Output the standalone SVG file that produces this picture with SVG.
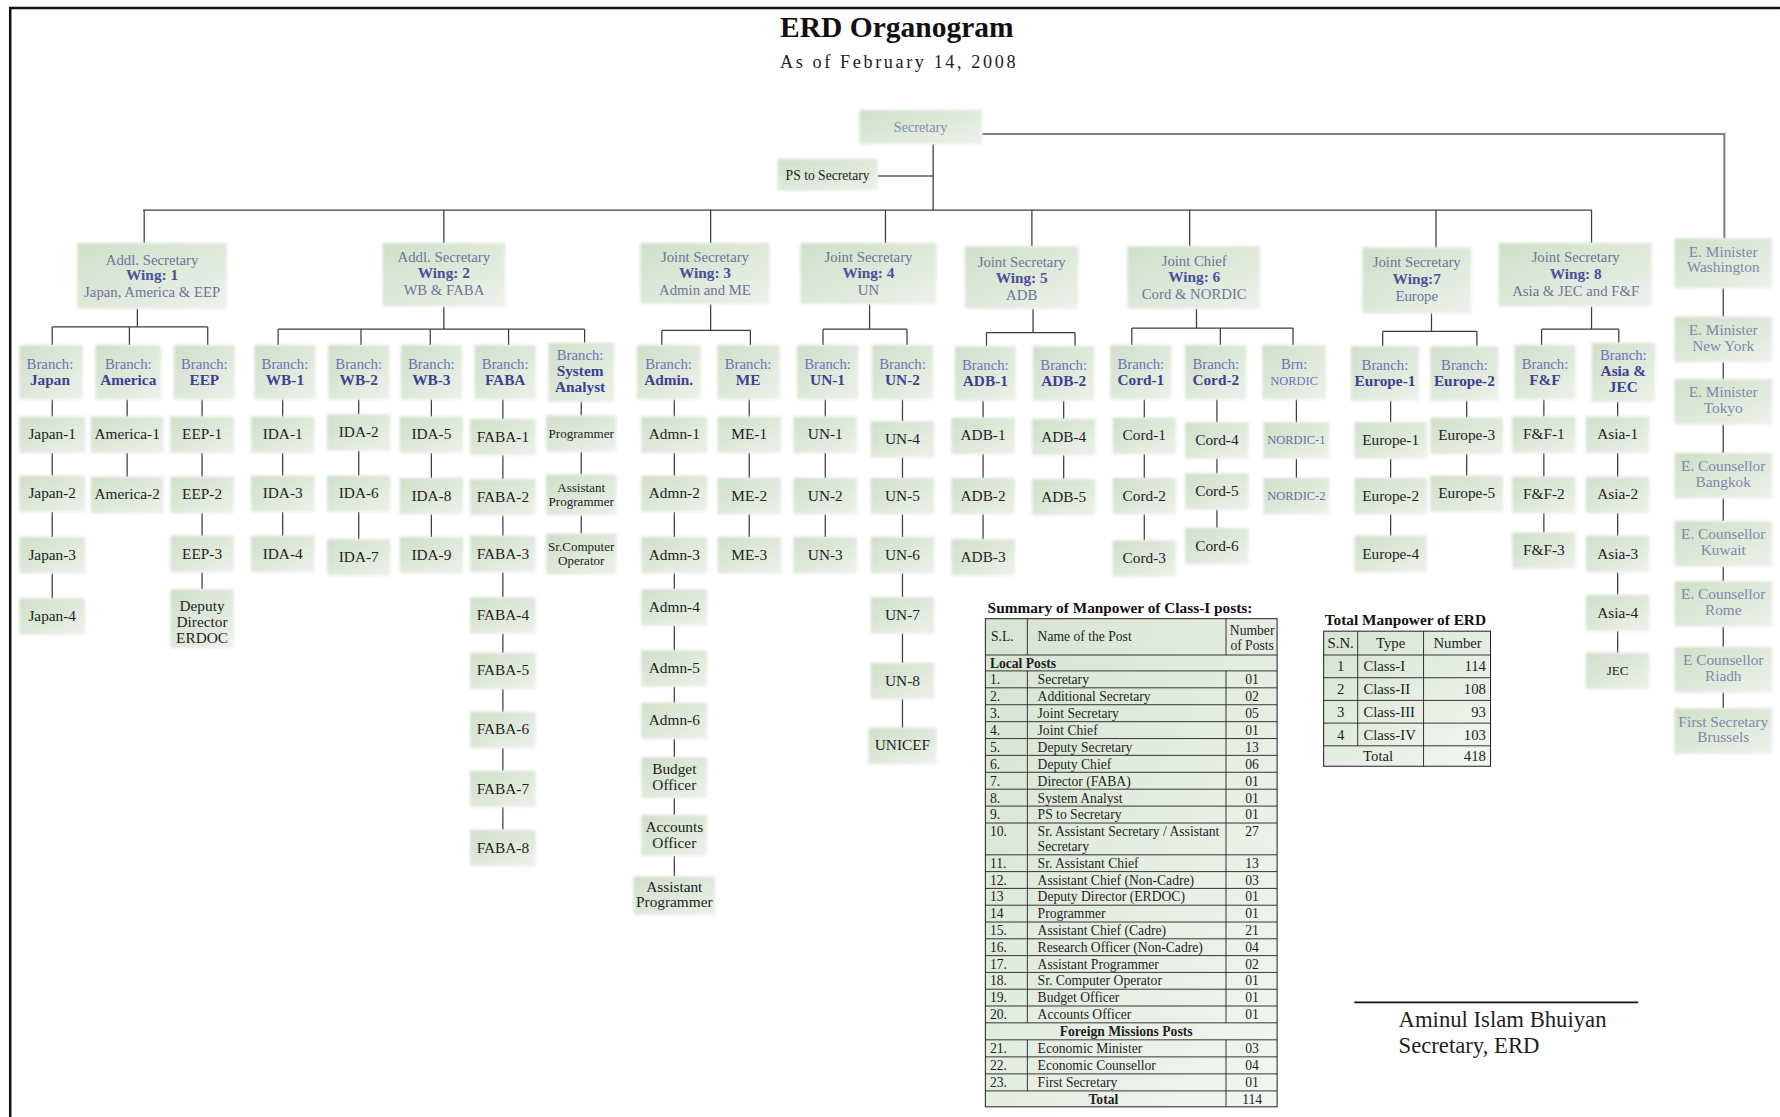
<svg xmlns="http://www.w3.org/2000/svg" width="1780" height="1117" viewBox="0 0 1780 1117">
<defs>
<linearGradient id="bg" x1="0" y1="0" x2="1" y2="1"><stop offset="0" stop-color="#cfdfc8"/><stop offset="1" stop-color="#edf1eb"/></linearGradient>
<linearGradient id="tg" x1="0" y1="0" x2="1" y2="1"><stop offset="0" stop-color="#d6e4d1"/><stop offset="1" stop-color="#f3f6f2"/></linearGradient>
<filter id="soft" x="-20%" y="-20%" width="140%" height="140%"><feGaussianBlur stdDeviation="1.3"/></filter>
</defs>
<style>
.bx{fill:url(#bg);filter:url(#soft)}
text{font-family:"Liberation Serif","Times New Roman",serif}
.t{font-size:13.5px;fill:#222;text-anchor:middle}
.s{font-size:11.5px}
.br{font-size:13px;fill:#6b73b8;text-anchor:middle}
.bn{font-size:13.5px;font-weight:bold;fill:#3c4191;text-anchor:middle}
.w{font-size:13px;fill:#6d7497;text-anchor:middle}
.wb{font-size:13.5px;font-weight:bold;fill:#4a5199;text-anchor:middle}
.m{font-size:13.5px;fill:#8088a8;text-anchor:middle}
.nd{font-size:11px;fill:#6a7098;text-anchor:middle}
.ln{stroke:#3c3c3c;stroke-width:1.1;fill:none}
.lg{stroke:#808080;stroke-width:1.8;fill:none}
.tb{fill:url(#tg);stroke:#222;stroke-width:0.9}
.tl{stroke:#222;stroke-width:0.8}
.tt{font-size:12px;fill:#1e1e1e}
.tn{font-size:12px;fill:#1e1e1e;text-anchor:middle}
.th{font-size:13.5px;font-weight:bold;fill:#111}
.tm{font-size:13px;fill:#1e1e1e}
</style>
<rect width="1780" height="1117" fill="#ffffff"/>
<g transform="scale(1.13520)">
<!-- frame -->
<path d="M9,984 V7 H1568" stroke="#111" stroke-width="2.2" fill="none"/>
<!-- title -->
<text x="790" y="33" text-anchor="middle" style="font-size:26px;font-weight:bold;fill:#111">ERD Organogram</text>
<text x="792" y="60" text-anchor="middle" style="font-size:16px;letter-spacing:2.3px;fill:#222">As of February 14, 2008</text>

<!-- connectors -->
<g id="connectors">
<polyline class="lg" points="865,118 1519,118 1519,210"/>
<line class="lg" x1="773" y1="155" x2="822" y2="155"/>
<line class="ln" x1="822" y1="127" x2="822" y2="185"/>
<line class="ln" x1="126" y1="185" x2="1402" y2="185"/>
<path class="ln" d="M127,185V214 M391,185V214 M626,185V214 M780,185V214 M909,185V217 M1048,185V217 M1265,185V218 M1402,185V214"/>
<path class="ln" d="M121,272V288 M46,288H183 M46,288V304 M114,288V304 M183,288V304"/>
<path class="ln" d="M46,352V367 M46,399V419 M46,451V473 M46,505V527 M112,352V367 M112,399V420 M178,352V367 M178,399V420 M178,452V472 M178,504V519"/>
<path class="ln" d="M391,270V290 M245,290H515 M245,290V304 M318,290V304 M379,290V304 M448,290V304 M515,290V302"/>
<path class="ln" d="M249,352V367 M249,399V419 M249,451V472 M316,352V365 M316,397V419 M316,451V475 M380,352V367 M380,399V421 M380,453V473 M443,352V369 M443,401V422 M443,454V472 M443,504V526 M443,558V575 M443,607V627 M443,659V679 M443,711V731 M512,354V366 M512,398V418 M512,454V470"/>
<path class="ln" d="M626,268V291 M583,291H661 M583,291V304 M661,291V304"/>
<path class="ln" d="M594,352V367 M594,399V419 M594,451V473 M594,505V519 M594,551V573 M594,605V619 M594,651V667 M594,703V718 M594,754V772 M660,352V367 M660,399V421 M660,453V473"/>
<path class="ln" d="M766,268V290 M725,290H799 M725,290V304 M799,290V304"/>
<path class="ln" d="M727,352V367 M727,399V421 M727,453V473 M795,352V371 M795,403V421 M795,453V473 M795,505V526 M795,558V584 M795,616V641"/>
<path class="ln" d="M910,272V293 M869,293H947 M869,293V305 M947,293V305"/>
<path class="ln" d="M866,353V368 M866,400V421 M866,453V475 M937,353V369 M937,401V422"/>
<path class="ln" d="M1054,272V289 M997,289H1139 M997,289V304 M1075,289V304 M1139,289V304"/>
<path class="ln" d="M1008,352V368 M1008,400V421 M1008,453V476 M1072,352V372 M1072,404V417 M1072,449V465 M1142,352V372 M1142,404V421"/>
<path class="ln" d="M1261,276V292 M1218,292H1301 M1218,292V305 M1301,292V305"/>
<path class="ln" d="M1225,353V372 M1225,404V421 M1225,453V472 M1292,353V368 M1292,400V419"/>
<path class="ln" d="M1402,270V290 M1358,290H1426 M1358,290V304 M1426,290V302"/>
<path class="ln" d="M1360,352V367 M1360,399V420 M1360,452V469 M1425,354V367 M1425,399V420 M1425,452V472 M1425,504V524 M1425,556V575"/>
<path class="ln" d="M1518,254V279 M1518,319V334 M1518,374V399 M1518,439V459 M1518,499V512 M1518,552V570 M1518,610V624"/>
</g>

<!-- top nodes -->
<g id="n-secretary"><rect class="bx" x="757" y="97" width="108" height="30"/><text x="811" y="116.5" text-anchor="middle" style="font-size:12.5px;fill:#7f8fb2">Secretary</text></g>
<g id="n-ps"><rect class="bx" x="685" y="140" width="88" height="28"/><text x="729" y="158.5" text-anchor="middle" style="font-size:12px;fill:#222">PS to Secretary</text></g>

<!-- wings -->
<g id="n-wing1"><rect class="bx" x="68" y="214" width="132" height="58"/><text class="w" x="134" y="233">Addl. Secretary</text><text class="wb" x="134" y="247">Wing: 1</text><text class="w" x="134" y="262">Japan, America &amp; EEP</text></g>
<g id="n-wing2"><rect class="bx" x="337" y="214" width="108" height="56"/><text class="w" x="391" y="231">Addl. Secretary</text><text class="wb" x="391" y="245">Wing: 2</text><text class="w" x="391" y="260">WB &amp; FABA</text></g>
<g id="n-wing3"><rect class="bx" x="564" y="214" width="114" height="54"/><text class="w" x="621" y="231">Joint Secretary</text><text class="wb" x="621" y="245">Wing: 3</text><text class="w" x="621" y="260">Admin and ME</text></g>
<g id="n-wing4"><rect class="bx" x="705" y="214" width="120" height="54"/><text class="w" x="765" y="231">Joint Secretary</text><text class="wb" x="765" y="245">Wing: 4</text><text class="w" x="765" y="260">UN</text></g>
<g id="n-wing5"><rect class="bx" x="850" y="217" width="100" height="55"/><text class="w" x="900" y="235">Joint Secretary</text><text class="wb" x="900" y="249">Wing: 5</text><text class="w" x="900" y="264">ADB</text></g>
<g id="n-wing6"><rect class="bx" x="993" y="217" width="117" height="55"/><text class="w" x="1052" y="234">Joint Chief</text><text class="wb" x="1052" y="248">Wing: 6</text><text class="w" x="1052" y="263">Cord &amp; NORDIC</text></g>
<g id="n-wing7"><rect class="bx" x="1200" y="218" width="96" height="58"/><text class="w" x="1248" y="235">Joint Secretary</text><text class="wb" x="1248" y="250">Wing:7</text><text class="w" x="1248" y="265">Europe</text></g>
<g id="n-wing8"><rect class="bx" x="1320" y="214" width="135" height="56"/><text class="w" x="1388" y="231">Joint Secretary</text><text class="wb" x="1388" y="246">Wing: 8</text><text class="w" x="1388" y="261">Asia &amp; JEC and F&amp;F</text></g>

<!-- wing 1 -->
<g id="n-b-japan"><rect class="bx" x="17" y="304" width="56" height="48"/><text class="br" x="44" y="325">Branch:</text><text class="bn" x="44" y="339">Japan</text></g>
<g id="n-b-america"><rect class="bx" x="84" y="304" width="58" height="48"/><text class="br" x="113" y="325">Branch:</text><text class="bn" x="113" y="339">America</text></g>
<g id="n-b-eep"><rect class="bx" x="153" y="304" width="54" height="48"/><text class="br" x="180" y="325">Branch:</text><text class="bn" x="180" y="339">EEP</text></g>
<g id="n-japan-1"><rect class="bx" x="17" y="367" width="58" height="32"/><text class="t" x="46" y="387">Japan-1</text></g>
<g id="n-japan-2"><rect class="bx" x="17" y="419" width="58" height="32"/><text class="t" x="46" y="439">Japan-2</text></g>
<g id="n-japan-3"><rect class="bx" x="17" y="473" width="58" height="32"/><text class="t" x="46" y="493">Japan-3</text></g>
<g id="n-japan-4"><rect class="bx" x="17" y="527" width="58" height="32"/><text class="t" x="46" y="547">Japan-4</text></g>
<g id="n-america-1"><rect class="bx" x="80" y="367" width="64" height="32"/><text class="t" x="112" y="387">America-1</text></g>
<g id="n-america-2"><rect class="bx" x="80" y="420" width="64" height="32"/><text class="t" x="112" y="440">America-2</text></g>
<g id="n-eep-1"><rect class="bx" x="150" y="367" width="56" height="32"/><text class="t" x="178" y="387">EEP-1</text></g>
<g id="n-eep-2"><rect class="bx" x="150" y="420" width="56" height="32"/><text class="t" x="178" y="440">EEP-2</text></g>
<g id="n-eep-3"><rect class="bx" x="150" y="472" width="56" height="32"/><text class="t" x="178" y="492">EEP-3</text></g>
<g id="n-dd-erdoc"><rect class="bx" x="150" y="519" width="56" height="52"/><text class="t" x="178" y="538">Deputy</text><text class="t" x="178" y="552">Director</text><text class="t" x="178" y="566">ERDOC</text></g>

<!-- wing 2 -->
<g id="n-b-wb1"><rect class="bx" x="224" y="304" width="54" height="48"/><text class="br" x="251" y="325">Branch:</text><text class="bn" x="251" y="339">WB-1</text></g>
<g id="n-b-wb2"><rect class="bx" x="289" y="304" width="54" height="48"/><text class="br" x="316" y="325">Branch:</text><text class="bn" x="316" y="339">WB-2</text></g>
<g id="n-b-wb3"><rect class="bx" x="353" y="304" width="54" height="48"/><text class="br" x="380" y="325">Branch:</text><text class="bn" x="380" y="339">WB-3</text></g>
<g id="n-b-faba"><rect class="bx" x="418" y="304" width="54" height="48"/><text class="br" x="445" y="325">Branch:</text><text class="bn" x="445" y="339">FABA</text></g>
<g id="n-b-sysan"><rect class="bx" x="483" y="302" width="58" height="52"/><text class="br" x="511" y="317">Branch:</text><text class="bn" x="511" y="331">System</text><text class="bn" x="511" y="345">Analyst</text></g>
<g id="n-ida-1"><rect class="bx" x="221" y="367" width="56" height="32"/><text class="t" x="249" y="387">IDA-1</text></g>
<g id="n-ida-3"><rect class="bx" x="221" y="419" width="56" height="32"/><text class="t" x="249" y="439">IDA-3</text></g>
<g id="n-ida-4"><rect class="bx" x="221" y="472" width="56" height="32"/><text class="t" x="249" y="492">IDA-4</text></g>
<g id="n-ida-2"><rect class="bx" x="288" y="365" width="56" height="32"/><text class="t" x="316" y="385">IDA-2</text></g>
<g id="n-ida-6"><rect class="bx" x="288" y="419" width="56" height="32"/><text class="t" x="316" y="439">IDA-6</text></g>
<g id="n-ida-7"><rect class="bx" x="288" y="475" width="56" height="32"/><text class="t" x="316" y="495">IDA-7</text></g>
<g id="n-ida-5"><rect class="bx" x="352" y="367" width="56" height="32"/><text class="t" x="380" y="387">IDA-5</text></g>
<g id="n-ida-8"><rect class="bx" x="352" y="421" width="56" height="32"/><text class="t" x="380" y="441">IDA-8</text></g>
<g id="n-ida-9"><rect class="bx" x="352" y="473" width="56" height="32"/><text class="t" x="380" y="493">IDA-9</text></g>
<g id="n-faba-1"><rect class="bx" x="414" y="369" width="58" height="32"/><text class="t" x="443" y="389">FABA-1</text></g>
<g id="n-faba-2"><rect class="bx" x="414" y="422" width="58" height="32"/><text class="t" x="443" y="442">FABA-2</text></g>
<g id="n-faba-3"><rect class="bx" x="414" y="472" width="58" height="32"/><text class="t" x="443" y="492">FABA-3</text></g>
<g id="n-faba-4"><rect class="bx" x="414" y="526" width="58" height="32"/><text class="t" x="443" y="546">FABA-4</text></g>
<g id="n-faba-5"><rect class="bx" x="414" y="575" width="58" height="32"/><text class="t" x="443" y="595">FABA-5</text></g>
<g id="n-faba-6"><rect class="bx" x="414" y="627" width="58" height="32"/><text class="t" x="443" y="647">FABA-6</text></g>
<g id="n-faba-7"><rect class="bx" x="414" y="679" width="58" height="32"/><text class="t" x="443" y="699">FABA-7</text></g>
<g id="n-faba-8"><rect class="bx" x="414" y="731" width="58" height="32"/><text class="t" x="443" y="751">FABA-8</text></g>
<g id="n-programmer"><rect class="bx" x="481" y="366" width="62" height="32"/><text class="t s" x="512" y="386">Programmer</text></g>
<g id="n-asst-prog-1"><rect class="bx" x="481" y="418" width="62" height="36"/><text class="t s" x="512" y="433">Assistant</text><text class="t s" x="512" y="446">Programmer</text></g>
<g id="n-sr-comp"><rect class="bx" x="481" y="470" width="62" height="36"/><text class="t s" x="512" y="485">Sr.Computer</text><text class="t s" x="512" y="498">Operator</text></g>

<!-- wing 3 -->
<g id="n-b-admin"><rect class="bx" x="561" y="304" width="56" height="48"/><text class="br" x="589" y="325">Branch:</text><text class="bn" x="589" y="339">Admin.</text></g>
<g id="n-b-me"><rect class="bx" x="632" y="304" width="55" height="48"/><text class="br" x="659" y="325">Branch:</text><text class="bn" x="659" y="339">ME</text></g>
<g id="n-admn-1"><rect class="bx" x="565" y="367" width="58" height="32"/><text class="t" x="594" y="387">Admn-1</text></g>
<g id="n-admn-2"><rect class="bx" x="565" y="419" width="58" height="32"/><text class="t" x="594" y="439">Admn-2</text></g>
<g id="n-admn-3"><rect class="bx" x="565" y="473" width="58" height="32"/><text class="t" x="594" y="493">Admn-3</text></g>
<g id="n-admn-4"><rect class="bx" x="565" y="519" width="58" height="32"/><text class="t" x="594" y="539">Admn-4</text></g>
<g id="n-admn-5"><rect class="bx" x="565" y="573" width="58" height="32"/><text class="t" x="594" y="593">Admn-5</text></g>
<g id="n-admn-6"><rect class="bx" x="565" y="619" width="58" height="32"/><text class="t" x="594" y="639">Admn-6</text></g>
<g id="n-budget"><rect class="bx" x="565" y="667" width="58" height="36"/><text class="t" x="594" y="682">Budget</text><text class="t" x="594" y="696">Officer</text></g>
<g id="n-accounts"><rect class="bx" x="565" y="718" width="58" height="36"/><text class="t" x="594" y="733">Accounts</text><text class="t" x="594" y="747">Officer</text></g>
<g id="n-asst-prog-2"><rect class="bx" x="558" y="772" width="72" height="34"/><text class="t" x="594" y="786">Assistant</text><text class="t" x="594" y="799">Programmer</text></g>
<g id="n-me-1"><rect class="bx" x="632" y="367" width="56" height="32"/><text class="t" x="660" y="387">ME-1</text></g>
<g id="n-me-2"><rect class="bx" x="632" y="421" width="56" height="32"/><text class="t" x="660" y="441">ME-2</text></g>
<g id="n-me-3"><rect class="bx" x="632" y="473" width="56" height="32"/><text class="t" x="660" y="493">ME-3</text></g>

<!-- wing 4 -->
<g id="n-b-un1"><rect class="bx" x="702" y="304" width="54" height="48"/><text class="br" x="729" y="325">Branch:</text><text class="bn" x="729" y="339">UN-1</text></g>
<g id="n-b-un2"><rect class="bx" x="768" y="304" width="54" height="48"/><text class="br" x="795" y="325">Branch:</text><text class="bn" x="795" y="339">UN-2</text></g>
<g id="n-un-1"><rect class="bx" x="699" y="367" width="56" height="32"/><text class="t" x="727" y="387">UN-1</text></g>
<g id="n-un-2"><rect class="bx" x="699" y="421" width="56" height="32"/><text class="t" x="727" y="441">UN-2</text></g>
<g id="n-un-3"><rect class="bx" x="699" y="473" width="56" height="32"/><text class="t" x="727" y="493">UN-3</text></g>
<g id="n-un-4"><rect class="bx" x="767" y="371" width="56" height="32"/><text class="t" x="795" y="391">UN-4</text></g>
<g id="n-un-5"><rect class="bx" x="767" y="421" width="56" height="32"/><text class="t" x="795" y="441">UN-5</text></g>
<g id="n-un-6"><rect class="bx" x="767" y="473" width="56" height="32"/><text class="t" x="795" y="493">UN-6</text></g>
<g id="n-un-7"><rect class="bx" x="767" y="526" width="56" height="32"/><text class="t" x="795" y="546">UN-7</text></g>
<g id="n-un-8"><rect class="bx" x="767" y="584" width="56" height="32"/><text class="t" x="795" y="604">UN-8</text></g>
<g id="n-unicef"><rect class="bx" x="765" y="641" width="60" height="32"/><text class="t" x="795" y="661">UNICEF</text></g>

<!-- wing 5 -->
<g id="n-b-adb1"><rect class="bx" x="841" y="305" width="54" height="48"/><text class="br" x="868" y="326">Branch:</text><text class="bn" x="868" y="340">ADB-1</text></g>
<g id="n-b-adb2"><rect class="bx" x="910" y="305" width="54" height="48"/><text class="br" x="937" y="326">Branch:</text><text class="bn" x="937" y="340">ADB-2</text></g>
<g id="n-adb-1"><rect class="bx" x="838" y="368" width="56" height="32"/><text class="t" x="866" y="388">ADB-1</text></g>
<g id="n-adb-2"><rect class="bx" x="838" y="421" width="56" height="32"/><text class="t" x="866" y="441">ADB-2</text></g>
<g id="n-adb-3"><rect class="bx" x="838" y="475" width="56" height="32"/><text class="t" x="866" y="495">ADB-3</text></g>
<g id="n-adb-4"><rect class="bx" x="909" y="369" width="56" height="32"/><text class="t" x="937" y="389">ADB-4</text></g>
<g id="n-adb-5"><rect class="bx" x="909" y="422" width="56" height="32"/><text class="t" x="937" y="442">ADB-5</text></g>

<!-- wing 6 -->
<g id="n-b-cord1"><rect class="bx" x="978" y="304" width="54" height="48"/><text class="br" x="1005" y="325">Branch:</text><text class="bn" x="1005" y="339">Cord-1</text></g>
<g id="n-b-cord2"><rect class="bx" x="1044" y="304" width="54" height="48"/><text class="br" x="1071" y="325">Branch:</text><text class="bn" x="1071" y="339">Cord-2</text></g>
<g id="n-b-nordic"><rect class="bx" x="1112" y="304" width="56" height="48"/><text class="br" x="1140" y="325">Brn:</text><text class="br" x="1140" y="339" style="font-size:11px">NORDIC</text></g>
<g id="n-cord-1"><rect class="bx" x="980" y="368" width="56" height="32"/><text class="t" x="1008" y="388">Cord-1</text></g>
<g id="n-cord-2"><rect class="bx" x="980" y="421" width="56" height="32"/><text class="t" x="1008" y="441">Cord-2</text></g>
<g id="n-cord-3"><rect class="bx" x="980" y="476" width="56" height="32"/><text class="t" x="1008" y="496">Cord-3</text></g>
<g id="n-cord-4"><rect class="bx" x="1044" y="372" width="56" height="32"/><text class="t" x="1072" y="392">Cord-4</text></g>
<g id="n-cord-5"><rect class="bx" x="1044" y="417" width="56" height="32"/><text class="t" x="1072" y="437">Cord-5</text></g>
<g id="n-cord-6"><rect class="bx" x="1044" y="465" width="56" height="32"/><text class="t" x="1072" y="485">Cord-6</text></g>
<g id="n-nordic-1"><rect class="bx" x="1113" y="372" width="58" height="32"/><text class="nd" x="1142" y="391.5">NORDIC-1</text></g>
<g id="n-nordic-2"><rect class="bx" x="1113" y="421" width="58" height="32"/><text class="nd" x="1142" y="440.5">NORDIC-2</text></g>

<!-- wing 7 -->
<g id="n-b-eu1"><rect class="bx" x="1190" y="305" width="60" height="48"/><text class="br" x="1220" y="326">Branch:</text><text class="bn" x="1220" y="340">Europe-1</text></g>
<g id="n-b-eu2"><rect class="bx" x="1260" y="305" width="60" height="48"/><text class="br" x="1290" y="326">Branch:</text><text class="bn" x="1290" y="340">Europe-2</text></g>
<g id="n-europe-1"><rect class="bx" x="1193" y="372" width="64" height="32"/><text class="t" x="1225" y="392">Europe-1</text></g>
<g id="n-europe-2"><rect class="bx" x="1193" y="421" width="64" height="32"/><text class="t" x="1225" y="441">Europe-2</text></g>
<g id="n-europe-4"><rect class="bx" x="1193" y="472" width="64" height="32"/><text class="t" x="1225" y="492">Europe-4</text></g>
<g id="n-europe-3"><rect class="bx" x="1260" y="368" width="64" height="32"/><text class="t" x="1292" y="388">Europe-3</text></g>
<g id="n-europe-5"><rect class="bx" x="1260" y="419" width="64" height="32"/><text class="t" x="1292" y="439">Europe-5</text></g>

<!-- wing 8 -->
<g id="n-b-ff"><rect class="bx" x="1334" y="304" width="54" height="48"/><text class="br" x="1361" y="325">Branch:</text><text class="bn" x="1361" y="339">F&amp;F</text></g>
<g id="n-b-asia"><rect class="bx" x="1402" y="302" width="56" height="52"/><text class="br" x="1430" y="317">Branch:</text><text class="bn" x="1430" y="331">Asia &amp;</text><text class="bn" x="1430" y="345">JEC</text></g>
<g id="n-ff-1"><rect class="bx" x="1332" y="367" width="56" height="32"/><text class="t" x="1360" y="387">F&amp;F-1</text></g>
<g id="n-ff-2"><rect class="bx" x="1332" y="420" width="56" height="32"/><text class="t" x="1360" y="440">F&amp;F-2</text></g>
<g id="n-ff-3"><rect class="bx" x="1332" y="469" width="56" height="32"/><text class="t" x="1360" y="489">F&amp;F-3</text></g>
<g id="n-asia-1"><rect class="bx" x="1397" y="367" width="56" height="32"/><text class="t" x="1425" y="387">Asia-1</text></g>
<g id="n-asia-2"><rect class="bx" x="1397" y="420" width="56" height="32"/><text class="t" x="1425" y="440">Asia-2</text></g>
<g id="n-asia-3"><rect class="bx" x="1397" y="472" width="56" height="32"/><text class="t" x="1425" y="492">Asia-3</text></g>
<g id="n-asia-4"><rect class="bx" x="1397" y="524" width="56" height="32"/><text class="t" x="1425" y="544">Asia-4</text></g>
<g id="n-jec"><rect class="bx" x="1397" y="575" width="56" height="32"/><text class="t s" x="1425" y="595">JEC</text></g>

<!-- foreign missions -->
<g id="n-em-washington"><rect class="bx" x="1475" y="210" width="86" height="44"/><text class="m" x="1518" y="226">E. Minister</text><text class="m" x="1518" y="240">Washington</text></g>
<g id="n-em-newyork"><rect class="bx" x="1475" y="279" width="86" height="40"/><text class="m" x="1518" y="295">E. Minister</text><text class="m" x="1518" y="309">New York</text></g>
<g id="n-em-tokyo"><rect class="bx" x="1475" y="334" width="86" height="40"/><text class="m" x="1518" y="350">E. Minister</text><text class="m" x="1518" y="364">Tokyo</text></g>
<g id="n-ec-bangkok"><rect class="bx" x="1475" y="399" width="86" height="40"/><text class="m" x="1518" y="415">E. Counsellor</text><text class="m" x="1518" y="429">Bangkok</text></g>
<g id="n-ec-kuwait"><rect class="bx" x="1475" y="459" width="86" height="40"/><text class="m" x="1518" y="475">E. Counsellor</text><text class="m" x="1518" y="489">Kuwait</text></g>
<g id="n-ec-rome"><rect class="bx" x="1475" y="512" width="86" height="40"/><text class="m" x="1518" y="528">E. Counsellor</text><text class="m" x="1518" y="542">Rome</text></g>
<g id="n-ec-riadh"><rect class="bx" x="1475" y="570" width="86" height="40"/><text class="m" x="1518" y="586">E Counsellor</text><text class="m" x="1518" y="600">Riadh</text></g>
<g id="n-fs-brussels"><rect class="bx" x="1475" y="624" width="86" height="40"/><text class="m" x="1518" y="640">First Secretary</text><text class="m" x="1518" y="654">Brussels</text></g>

<!-- summary table -->
<g id="summary-table">
<text class="th" x="870" y="540">Summary of Manpower of Class-I posts:</text>
<rect class="tb" x="868" y="545" width="257" height="430"/>
<path class="tl" d="M868,577H1125 M868,591H1125 M868,605.9H1125 M868,620.8H1125 M868,635.7H1125 M868,650.6H1125 M868,665.4H1125 M868,680.3H1125 M868,695.2H1125 M868,710.1H1125 M868,725H1125 M868,753H1125 M868,767.8H1125 M868,782.6H1125 M868,797.4H1125 M868,812.2H1125 M868,827H1125 M868,841.8H1125 M868,856.6H1125 M868,871.4H1125 M868,886.2H1125 M868,901H1125 M868,916H1125 M868,931H1125 M868,946H1125 M868,961H1125"/>
<path class="tl" d="M905,545V577 M905,591V901 M905,916V961 M1080,545V577 M1080,591V901 M1080,916V975"/>
<text class="tt" x="873" y="565">S.L.</text>
<text class="tt" x="914" y="565">Name of the Post</text>
<text class="tn" x="1103" y="559">Number</text>
<text class="tn" x="1103" y="573">of Posts</text>
<text class="tt" x="872" y="588.5" style="font-weight:bold">Local Posts</text>
<g class="tt">
<text x="872" y="602.5">1.</text><text x="914" y="602.5">Secretary</text>
<text x="872" y="617.5">2.</text><text x="914" y="617.5">Additional Secretary</text>
<text x="872" y="632.5">3.</text><text x="914" y="632.5">Joint Secretary</text>
<text x="872" y="647.5">4.</text><text x="914" y="647.5">Joint Chief</text>
<text x="872" y="662.5">5.</text><text x="914" y="662.5">Deputy Secretary</text>
<text x="872" y="677">6.</text><text x="914" y="677">Deputy Chief</text>
<text x="872" y="692">7.</text><text x="914" y="692">Director (FABA)</text>
<text x="872" y="707">8.</text><text x="914" y="707">System Analyst</text>
<text x="872" y="721.5">9.</text><text x="914" y="721.5">PS to Secretary</text>
<text x="872" y="736.5">10.</text><text x="914" y="736.5">Sr. Assistant Secretary / Assistant</text><text x="914" y="749.5">Secretary</text>
<text x="872" y="764.5">11.</text><text x="914" y="764.5">Sr. Assistant Chief</text>
<text x="872" y="779.5">12.</text><text x="914" y="779.5">Assistant Chief (Non-Cadre)</text>
<text x="872" y="794">13</text><text x="914" y="794">Deputy Director (ERDOC)</text>
<text x="872" y="809">14</text><text x="914" y="809">Programmer</text>
<text x="872" y="823.5">15.</text><text x="914" y="823.5">Assistant Chief (Cadre)</text>
<text x="872" y="838.5">16.</text><text x="914" y="838.5">Research Officer (Non-Cadre)</text>
<text x="872" y="853.5">17.</text><text x="914" y="853.5">Assistant Programmer</text>
<text x="872" y="868">18.</text><text x="914" y="868">Sr. Computer Operator</text>
<text x="872" y="883">19.</text><text x="914" y="883">Budget Officer</text>
<text x="872" y="897.5">20.</text><text x="914" y="897.5">Accounts Officer</text>
<text x="872" y="927.5">21.</text><text x="914" y="927.5">Economic Minister</text>
<text x="872" y="942.5">22.</text><text x="914" y="942.5">Economic Counsellor</text>
<text x="872" y="957.5">23.</text><text x="914" y="957.5">First Secretary</text>
</g>
<g class="tn">
<text x="1103" y="602.5">01</text><text x="1103" y="617.5">02</text><text x="1103" y="632.5">05</text><text x="1103" y="647.5">01</text><text x="1103" y="662.5">13</text><text x="1103" y="677">06</text><text x="1103" y="692">01</text><text x="1103" y="707">01</text><text x="1103" y="721.5">01</text><text x="1103" y="736.5">27</text>
<text x="1103" y="764.5">13</text><text x="1103" y="779.5">03</text><text x="1103" y="794">01</text><text x="1103" y="809">01</text><text x="1103" y="823.5">21</text><text x="1103" y="838.5">04</text><text x="1103" y="853.5">02</text><text x="1103" y="868">01</text><text x="1103" y="883">01</text><text x="1103" y="897.5">01</text>
<text x="1103" y="927.5">03</text><text x="1103" y="942.5">04</text><text x="1103" y="957.5">01</text><text x="1103" y="972.5">114</text>
</g>
<text class="tn" x="992" y="912.5" style="font-weight:bold">Foreign Missions Posts</text>
<text class="tn" x="972" y="972.5" style="font-weight:bold">Total</text>
</g>

<!-- total manpower table -->
<g id="total-table">
<text class="th" x="1167" y="551">Total Manpower of ERD</text>
<rect class="tb" x="1166" y="556" width="147" height="119"/>
<path class="tl" d="M1166,577H1313 M1166,597H1313 M1166,617H1313 M1166,637H1313 M1166,657H1313 M1196,556V657 M1254,556V675"/>
<g class="tm">
<text x="1181" y="571" text-anchor="middle">S.N.</text><text x="1225" y="571" text-anchor="middle">Type</text><text x="1284" y="571" text-anchor="middle">Number</text>
<text x="1181" y="591.5" text-anchor="middle">1</text><text x="1201" y="591.5">Class-I</text><text x="1309" y="591.5" text-anchor="end">114</text>
<text x="1181" y="611.5" text-anchor="middle">2</text><text x="1201" y="611.5">Class-II</text><text x="1309" y="611.5" text-anchor="end">108</text>
<text x="1181" y="631.5" text-anchor="middle">3</text><text x="1201" y="631.5">Class-III</text><text x="1309" y="631.5" text-anchor="end">93</text>
<text x="1181" y="651.5" text-anchor="middle">4</text><text x="1201" y="651.5">Class-IV</text><text x="1309" y="651.5" text-anchor="end">103</text>
<text x="1214" y="670.5" text-anchor="middle">Total</text><text x="1309" y="670.5" text-anchor="end">418</text>
</g>
</g>

<!-- signature -->
<line x1="1193" y1="883" x2="1443" y2="883" stroke="#111" stroke-width="1.5"/>
<text x="1232" y="905" style="font-size:20px;fill:#1e1e1e">Aminul Islam Bhuiyan</text>
<text x="1232" y="928" style="font-size:20px;fill:#1e1e1e">Secretary, ERD</text>
</g>
</svg>
